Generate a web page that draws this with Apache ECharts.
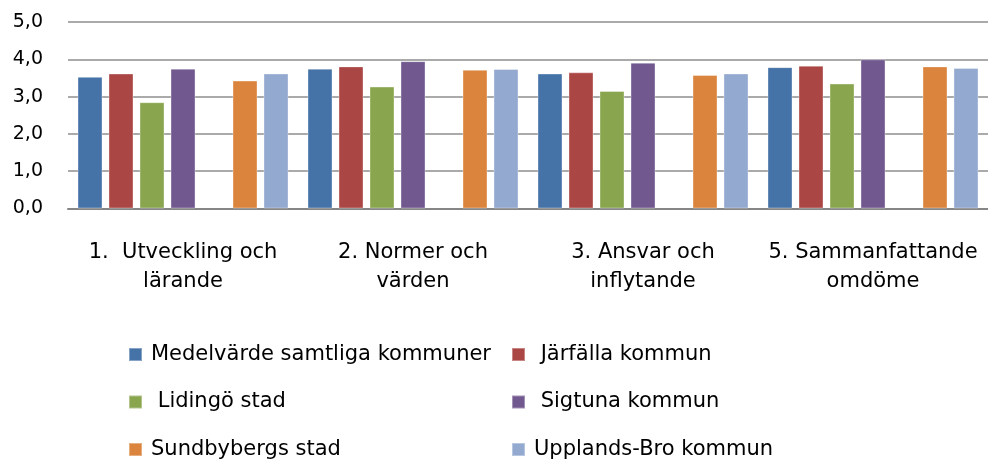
<!DOCTYPE html>
<html>
<head>
<meta charset="utf-8">
<script src="https://cdn.jsdelivr.net/npm/echarts@6/dist/echarts.min.js"></script>
<style>
  html, body { margin: 0; padding: 0; background: #fff; }
  #chart { width: 988px; height: 461px; }
</style>
</head>
<body>
<div id="chart"></div>
<script>
var categories = ['1.  Utveckling och\nlärande', '2. Normer och\nvärden', '3. Ansvar och\ninflytande', '5. Sammanfattande\nomdöme'];
var yTicks = [0, 1, 2, 3, 4, 5];

var medelvarde = [3.53, 3.75, 3.62, 3.79];
var jarfalla = [3.62, 3.81, 3.65, 3.83];
var lidingo = [2.85, 3.27, 3.15, 3.35];
var sigtuna = [3.75, 3.95, 3.91, 4.0];
var tom = [null, null, null, null];   // empty series, leaves the gap
var sundbyberg = [3.43, 3.72, 3.58, 3.81];
var upplandsBro = [3.62, 3.74, 3.62, 3.77];

var names = ['Medelvärde samtliga kommuner', ' Järfälla kommun', ' Lidingö stad', ' Sigtuna kommun', '', 'Sundbybergs stad', 'Upplands-Bro kommun'];
var values = [medelvarde, jarfalla, lidingo, sigtuna, tom, sundbyberg, upplandsBro];
var colors = ['#4572A7', '#AA4643', '#89A54E', '#71588F', '#ffffff', '#DB843D', '#93A9CF'];

var font = 'DejaVu Sans';
var fs = 21;

var series = values.map(function (d, i) {
    return {
        name: names[i],
        type: 'bar',
        data: d,
        barWidth: 25,
        barGap: '24%',
        itemStyle: {
            color: colors[i],
            borderColor: 'rgba(255,255,255,0.35)',
            borderWidth: 1
        }
    };
});

var legendBase = {
    orient: 'vertical',
    top: 344,
    height: 200,
    padding: 0,
    icon: 'rect',
    itemWidth: 13,
    itemHeight: 13,
    itemGap: 26.5,
    selectedMode: false,
    textStyle: { fontFamily: font, fontSize: fs, color: '#000', padding: [0, 0, 0, 4] }
};

var chart = echarts.init(document.getElementById('chart'));
var option = {
    animation: false,
    grid: { left: 68, right: 0, top: 22, bottom: 252.5 },
    legend: [
        Object.assign({}, legendBase, { left: 128, data: [names[0], names[2], names[5]] }),
        Object.assign({}, legendBase, { left: 511, data: [names[1], names[3], names[6]] })
    ],
    xAxis: {
        type: 'category',
        data: categories,
        axisLine: { lineStyle: { color: '#868686', width: 2 } },
        axisTick: { show: false },
        axisLabel: {
            interval: 0,
            margin: 30,
            fontFamily: font,
            fontSize: fs,
            lineHeight: 29,
            color: '#000'
        }
    },
    yAxis: {
        type: 'value',
        min: yTicks[0],
        max: yTicks[yTicks.length - 1],
        interval: 1,
        axisLine: { show: false },
        axisTick: { show: false },
        splitLine: { lineStyle: { color: '#8e8e8e', width: 1.5 } },
        axisLabel: {
            margin: 25,
            fontFamily: font,
            fontSize: 19,
            color: '#000',
            formatter: function (v) { return v.toFixed(1).replace('.', ','); }
        }
    },
    series: series
};
chart.setOption(option);
</script>
</body>
</html>
